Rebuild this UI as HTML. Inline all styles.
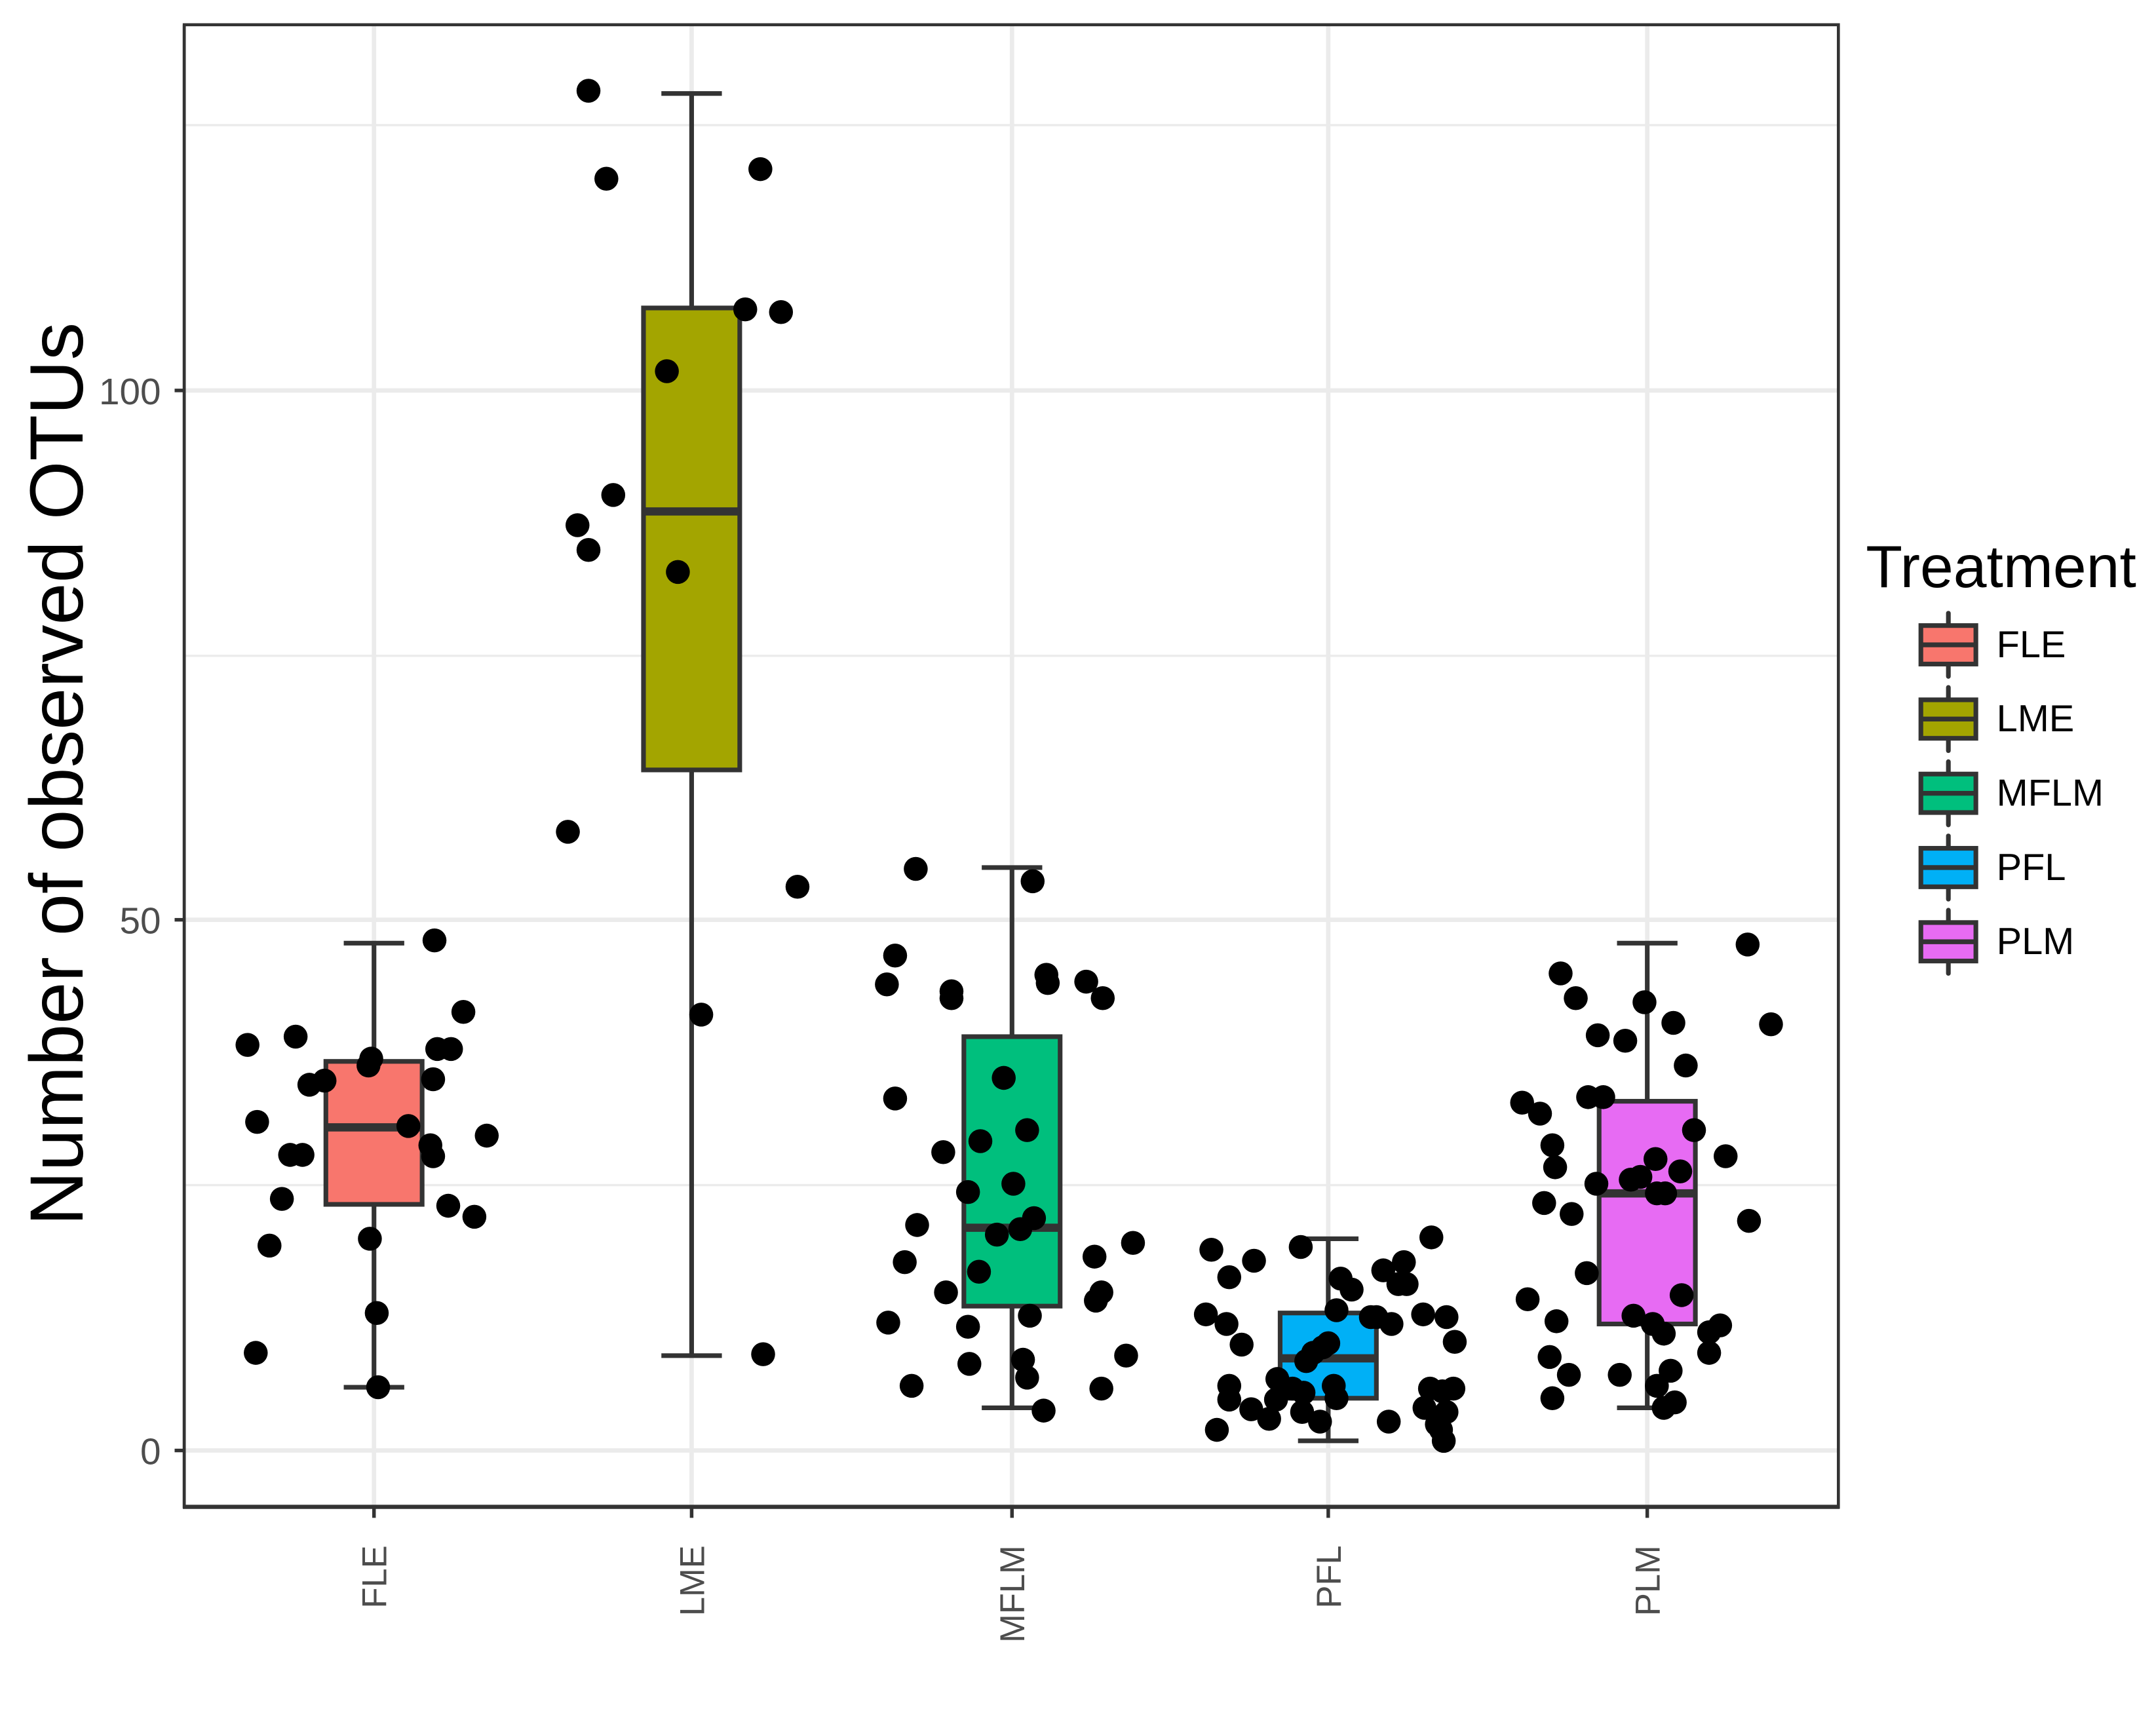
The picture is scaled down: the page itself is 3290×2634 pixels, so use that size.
<!DOCTYPE html>
<html><head><meta charset="utf-8"><style>html,body{margin:0;padding:0;background:#fff}svg{display:block}</style></head>
<body>
<svg id="s" width="3290" height="2634" viewBox="0 0 1568 1255.4" preserveAspectRatio="none" xmlns="http://www.w3.org/2000/svg" font-family="Liberation Sans, Arial, sans-serif">
<rect x="0" y="0" width="1568" height="1256" fill="#fff"/>
<g stroke="#ebebeb" stroke-width="1.6">
<line x1="134" x2="1337" y1="862" y2="862"/><line x1="134" x2="1337" y1="477" y2="477"/><line x1="134" x2="1337" y1="91" y2="91"/>
</g>
<g stroke="#ebebeb" stroke-width="3.2">
<line x1="134" x2="1337" y1="1055" y2="1055"/><line x1="134" x2="1337" y1="669" y2="669"/><line x1="134" x2="1337" y1="284" y2="284"/>
<line y1="18" y2="1096" x1="272" x2="272"/><line y1="18" y2="1096" x1="503" x2="503"/><line y1="18" y2="1096" x1="736" x2="736"/><line y1="18" y2="1096" x1="966" x2="966"/><line y1="18" y2="1096" x1="1198" x2="1198"/>
</g>
<g id="boxes" stroke="#333" stroke-width="3.4"></g>
<g id="pts" fill="#000"></g>
<rect x="134" y="18" width="1203" height="1078" fill="none" stroke="#333" stroke-width="2.2"/>
<line x1="133" x2="1338" y1="1096" y2="1096" stroke="#333" stroke-width="3"/>
<line x1="134" x2="134" y1="18" y2="1097" stroke="#333" stroke-width="2.2"/>
<g stroke="#333" stroke-width="2.6">
<line x1="127" x2="134" y1="1055" y2="1055"/><line x1="127" x2="134" y1="669" y2="669"/><line x1="127" x2="134" y1="284" y2="284"/>
<line y1="1096" y2="1104" x1="272" x2="272"/><line y1="1096" y2="1104" x1="503" x2="503"/><line y1="1096" y2="1104" x1="736" x2="736"/><line y1="1096" y2="1104" x1="966" x2="966"/><line y1="1096" y2="1104" x1="1198" x2="1198"/>
</g>
<g fill="#4d4d4d" font-size="27" text-anchor="end">
<text x="117" y="1065">0</text><text x="117" y="679">50</text><text x="117" y="294">100</text>
</g>
<g fill="#4d4d4d" font-size="25" text-anchor="end">
<text transform="translate(281,1124) rotate(-90)">FLE</text>
<text transform="translate(512,1124) rotate(-90)">LME</text>
<text transform="translate(745,1124) rotate(-90)">MFLM</text>
<text transform="translate(975,1124) rotate(-90)">PFL</text>
<text transform="translate(1207,1124) rotate(-90)">PLM</text>
</g>
<text transform="translate(60,563) rotate(-90)" font-size="55" text-anchor="middle" fill="#000">Number of observed OTUs</text>
<text x="1357" y="427" font-size="43.5" fill="#000">Treatment</text>
<g id="leg"></g>
</svg>
<script>
var NS="http://www.w3.org/2000/svg";
function el(p,t,a){var e=document.createElementNS(NS,t);for(var k in a)e.setAttribute(k,a[k]);p.appendChild(e);return e;}
var B=[[272,"#F8766D",772,876,820,686,1009],[503,"#A3A500",224,560,372,68,986],[736,"#00BF7D",754,950,893,631,1024],[966,"#00B0F6",955,1017,988,901,1048],[1198,"#E76BF3",801,963,868,686,1024]];
var g=document.getElementById("boxes");
B.forEach(function(b){var x=b[0];
el(g,"line",{x1:x,x2:x,y1:b[5],y2:b[2]});el(g,"line",{x1:x,x2:x,y1:b[3],y2:b[6]});
el(g,"line",{x1:x-22,x2:x+22,y1:b[5],y2:b[5]});el(g,"line",{x1:x-22,x2:x+22,y1:b[6],y2:b[6]});
el(g,"rect",{x:x-35,y:b[2],width:70,height:b[3]-b[2],fill:b[1]});
el(g,"line",{x1:x-35,x2:x+35,y1:b[4],y2:b[4],"stroke-width":6});});
var P=[[180,760],[187,816],[196,906],[186,984],[205,872],[215,754],[211,840],[220,840],[225,789],[236,786],[268,775],[270,770],[269,901],[274,955],[275,1009],[297,819],[316,684],[315,785],[318,763],[328,763],[337,736],[313,833],[315,841],[326,877],[345,885],[354,826],
[428,66],[441,130],[553,123],[542,225],[568,227],[485,270],[446,360],[420,382],[428,400],[493,416],[413,605],[580,645],[510,738],[555,985],
[666,632],[751,641],[651,695],[645,716],[692,721],[692,726],[761,709],[790,714],[802,726],[762,715],[730,784],[651,799],[747,822],[713,830],[686,838],[737,861],[704,867],[667,891],[752,886],[742,894],[725,898],[658,918],[712,925],[796,914],[824,904],[688,940],[801,940],[797,946],[646,962],[704,965],[749,957],[744,989],[705,992],[747,1002],[819,986],[663,1008],[801,1010],[759,1026],
[881,909],[912,917],[946,907],[1041,900],[1021,918],[1006,924],[975,930],[983,938],[1017,934],[1023,934],[894,929],[877,956],[892,963],[903,978],[972,953],[1001,958],[997,958],[1012,963],[1035,956],[1052,958],[1058,976],[966,977],[962,980],[955,984],[950,990],[894,1008],[894,1018],[910,1025],[928,1018],[929,1003],[940,1010],[948,1013],[970,1008],[972,1017],[923,1032],[947,1027],[960,1034],[1010,1034],[1040,1010],[1049,1012],[1057,1010],[1052,1027],[1036,1024],[1045,1036],[1048,1040],[1050,1048],[885,1040],
[1271,687],[1135,708],[1146,726],[1196,729],[1288,745],[1217,744],[1162,753],[1182,757],[1226,775],[1107,802],[1120,810],[1155,798],[1166,798],[1232,822],[1129,833],[1131,849],[1204,843],[1222,852],[1193,856],[1161,861],[1186,858],[1205,868],[1211,868],[1255,841],[1123,875],[1143,883],[1272,888],[1154,926],[1111,945],[1223,942],[1132,961],[1188,957],[1202,963],[1210,970],[1251,964],[1243,969],[1127,987],[1243,984],[1141,1000],[1178,1000],[1215,997],[1205,1008],[1129,1017],[1218,1020],[1210,1024]];
var pg=document.getElementById("pts");P.forEach(function(p){el(pg,"circle",{cx:p[0],cy:p[1],r:8.7});});
var lg=document.getElementById("leg");
["#F8766D","#A3A500","#00BF7D","#00B0F6","#E76BF3"].forEach(function(c,i){var cy=469+54*i;
el(lg,"line",{x1:1417,x2:1417,y1:cy-23,y2:cy+23,stroke:"#333","stroke-width":3.4,"stroke-linecap":"round"});
el(lg,"rect",{x:1397,y:cy-14,width:40,height:28,fill:c,stroke:"#333","stroke-width":3.4});
el(lg,"line",{x1:1397,x2:1437,y1:cy,y2:cy,stroke:"#333","stroke-width":3.5});
var t=el(lg,"text",{x:1452,y:cy+9,"font-size":27.5,fill:"#000"});t.textContent=["FLE","LME","MFLM","PFL","PLM"][i];});
</script>
</body></html>
